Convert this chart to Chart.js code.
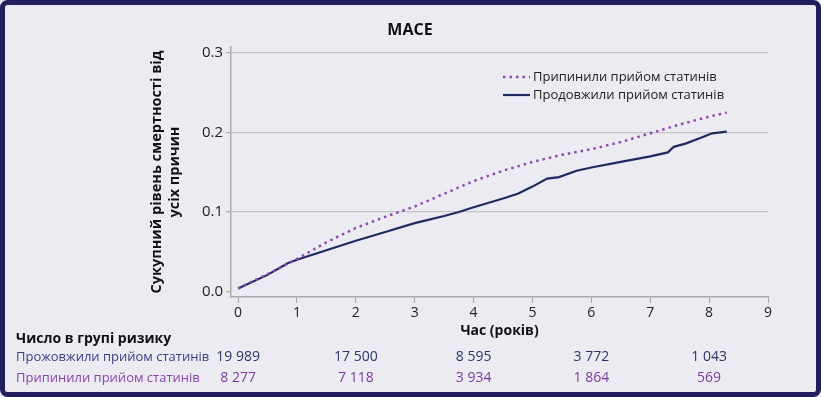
<!DOCTYPE html>
<html>
<head>
<meta charset="utf-8">
<script src="https://cdn.jsdelivr.net/npm/chart.js@4/dist/chart.umd.min.js"></script>
<style>
  html, body { margin: 0; padding: 0; background: #ecebf2; }
  #wrap { width: 821px; height: 397px; position: relative; }
</style>
</head>
<body>
<div id="wrap"><canvas id="maceChart" width="821" height="397"></canvas></div>
<script>
// ---------------- data ----------------
var chartTitle = "MACE";
var seriesNames = ["Припинили прийом статинів", "Продовжили прийом статинів"];

var stoppedYears = [0, 0.5, 1, 1.5, 2, 2.5, 3, 3.5, 4, 4.5, 5, 5.5, 6, 6.5, 7, 7.5, 8, 8.3];
var stoppedRisk  = [0.004, 0.022, 0.041, 0.062, 0.080, 0.094, 0.107, 0.123, 0.139, 0.152, 0.163, 0.172, 0.179, 0.188, 0.199, 0.210, 0.220, 0.225];

var continuedYears = [0, 0.5, 0.85, 1, 1.5, 2, 2.5, 3, 3.5, 3.75, 4, 4.5, 4.75, 5, 5.25, 5.45, 5.75, 6, 6.5, 7, 7.3, 7.4, 7.6, 7.85, 8.05, 8.3];
var continuedRisk  = [0.004, 0.021, 0.036, 0.040, 0.052, 0.064, 0.075, 0.086, 0.095, 0.100, 0.106, 0.117, 0.123, 0.132, 0.142, 0.144, 0.152, 0.156, 0.163, 0.170, 0.175, 0.182, 0.186, 0.193, 0.199, 0.201];

var xTicks = [0, 1, 2, 3, 4, 5, 6, 7, 8, 9];
var yTicks = [0, 0.1, 0.2, 0.3];

var riskTitle = "Число в групі ризику";
var riskRowLabels = ["Прожовжили прийом статинів", "Припинили прийом статинів"];
var riskYears = [0, 2, 4, 6, 8];
var riskContinued = ["19 989", "17 500", "8 595", "3 772", "1 043"];
var riskStopped = ["8 277", "7 118", "3 934", "1 864", "569"];

// ---------------- colours ----------------
var NAVY = "#1f2a5e";
var PURPLE = "#9148b0";
var FONT = "'Open Sans', 'Noto Sans', sans-serif";

function toPoints(xs, ys) {
    return xs.map(function (x, i) { return { x: x, y: ys[i] }; });
}

// background + frame
var framePlugin = {
    id: "frame",
    beforeDraw: function (chart) {
        var c = chart.ctx;
        c.save();
        c.fillStyle = "#ecebf2";
        c.fillRect(0, 0, chart.width, chart.height);
        c.lineWidth = 5;
        c.strokeStyle = "#221d5c";
        c.beginPath();
        c.roundRect(2.5, 2.5, chart.width - 5, chart.height - 5, 5);
        c.stroke();
        c.restore();
    }
};

// title, legend inside the plot, risk table under the axis
var extrasPlugin = {
    id: "extras",
    afterDraw: function (chart) {
        var c = chart.ctx;
        var xs = chart.scales.x;
        c.save();

        c.fillStyle = "#111";
        c.font = "bold 16px " + FONT;
        c.textAlign = "center";
        c.textBaseline = "middle";
        c.fillText(chartTitle, 410, 30);

        // legend
        var ds = chart.data.datasets;
        var ly = [77, 95];
        for (var i = 0; i < ds.length; i++) {
            c.beginPath();
            c.strokeStyle = ds[i].borderColor;
            c.lineWidth = ds[i].borderWidth;
            c.setLineDash(ds[i].borderDash || []);
            c.moveTo(503, ly[i]);
            c.lineTo(530, ly[i]);
            c.stroke();
            c.setLineDash([]);
            c.fillStyle = "#222";
            c.font = "13px " + FONT;
            c.textAlign = "left";
            c.fillText(ds[i].label, 533, ly[i]);
        }

        // risk table
        c.textAlign = "left";
        c.fillStyle = "#111";
        c.font = "bold 14px " + FONT;
        c.fillText(riskTitle, 16, 339);

        c.font = "13px " + FONT;
        c.fillStyle = "#3c4080";
        c.fillText(riskRowLabels[0], 16, 357);
        c.fillStyle = "#8a45a8";
        c.fillText(riskRowLabels[1], 16, 378);

        c.font = "14px " + FONT;
        c.textAlign = "center";
        for (var j = 0; j < riskYears.length; j++) {
            var px = xs.getPixelForValue(riskYears[j]);
            c.fillStyle = "#2c3668";
            c.fillText(riskContinued[j], px, 357);
            c.fillStyle = "#7e3a9e";
            c.fillText(riskStopped[j], px, 378);
        }
        c.restore();
    }
};

var ctx = document.getElementById("maceChart");

new Chart(ctx, {
    type: "line",
    data: {
        datasets: [
            {
                label: seriesNames[0],
                data: toPoints(stoppedYears, stoppedRisk),
                borderColor: PURPLE,
                borderWidth: 2.5,
                borderDash: [2.5, 4],
                pointRadius: 0,
                tension: 0,
                fill: false
            },
            {
                label: seriesNames[1],
                data: toPoints(continuedYears, continuedRisk),
                borderColor: NAVY,
                borderWidth: 2.2,
                pointRadius: 0,
                tension: 0,
                fill: false
            }
        ]
    },
    options: {
        responsive: false,
        animation: false,
        layout: {
            padding: { left: 0, right: 53, top: 47, bottom: 57 }
        },
        plugins: {
            legend: { display: false },
            tooltip: { enabled: false },
            title: { display: false }
        },
        scales: {
            x: {
                type: "linear",
                min: -0.12,
                max: 9,
                afterBuildTicks: function (scale) {
                    scale.ticks = xTicks.map(function (v) { return { value: v }; });
                },
                afterFit: function (scale) { scale.height = 43; },
                grid: {
                    drawOnChartArea: false,
                    tickLength: 6,
                    tickColor: "#aaa",
                    tickWidth: 1.2
                },
                border: { display: true, color: "#aaa", width: 1.5 },
                ticks: {
                    color: "#222",
                    font: { family: FONT, size: 14 },
                    padding: 2,
                    maxRotation: 0,
                    callback: function (v) { return v; }
                },
                title: {
                    display: true,
                    text: "Час (років)",
                    color: "#111",
                    font: { family: FONT, size: 14, weight: "bold" },
                    padding: { top: 0, bottom: 1 }
                }
            },
            y: {
                type: "linear",
                min: -0.0068,
                max: 0.3075,
                afterBuildTicks: function (scale) {
                    scale.ticks = yTicks.map(function (v) { return { value: v }; });
                },
                afterFit: function (scale) { scale.width = 231; },
                grid: {
                    color: function (c) { return c.tick && c.tick.value === 0 ? "rgba(0,0,0,0)" : "#c4c4c8"; },
                    lineWidth: 1.3,
                    tickLength: 5,
                    tickColor: "#aaa",
                    tickWidth: 1.2
                },
                border: { display: true, color: "#aaa", width: 1.5 },
                ticks: {
                    color: "#222",
                    font: { family: FONT, size: 15 },
                    padding: 3,
                    callback: function (v) { return Number(v).toFixed(1); }
                },
                title: {
                    display: true,
                    text: ["Сукупний рівень смертності від", "усіх причин"],
                    color: "#111",
                    font: { family: FONT, size: 14.5, weight: "bold", lineHeight: 1.3 },
                    padding: { top: 147, bottom: 0 }
                }
            }
        }
    },
    plugins: [framePlugin, extrasPlugin]
});
</script>
</body>
</html>
